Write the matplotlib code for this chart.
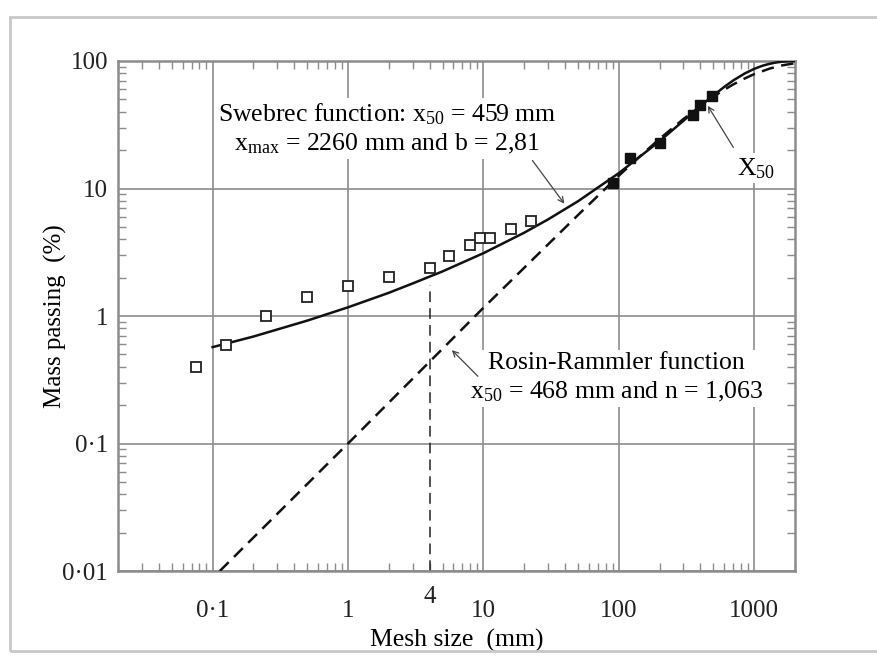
import matplotlib
matplotlib.use('Agg')
import matplotlib.pyplot as plt
from matplotlib.patches import Rectangle
from matplotlib.ticker import FixedLocator, LogLocator, NullFormatter

plt.rcParams['font.family'] = ['Liberation Serif', 'DejaVu Serif']
plt.rcParams['mathtext.fontset'] = 'custom'
plt.rcParams['mathtext.rm'] = 'Liberation Serif'
plt.rcParams['mathtext.it'] = 'Liberation Serif:italic'

# measured points: open = fines, filled = coarse
open_x = [0.075, 0.125, 0.25, 0.5, 1.0, 2.0, 4.0, 5.6, 8.0, 9.5, 11.2, 16, 22.4]
open_y = [0.40, 0.59, 1.0, 1.40, 1.72, 2.02, 2.40, 2.93, 3.62, 4.1, 4.1, 4.8, 5.57]
fill_x = [90, 120, 200, 350, 400, 490]
fill_y = [11.1, 17.4, 22.6, 37.8, 45.3, 53.6]

# Swebrec curve
sw_x = [0.1, 0.2, 0.5, 1, 2, 3, 5, 10, 20, 30, 50, 100, 200, 300, 459, 600,
        700, 850, 1000, 1150, 1300, 1450, 1600, 1800, 2000]
sw_y = [0.57, 0.69, 0.92, 1.17, 1.52, 1.80, 2.24, 3.11, 4.50, 5.72, 7.95, 13.2,
        23.5, 34.0, 50.0, 62.6, 70.4, 79.8, 86.8, 91.8, 95.1, 97.3, 98.7, 99.6, 99.9]

# Rosin-Rammler curve
rr_x = [0.113, 1, 10, 50, 100, 150, 200, 300, 500, 600, 700, 850, 1000, 1300, 1600, 2000]
rr_y = [0.01, 0.1, 1.16, 6.2, 12.6, 18.7, 24.5, 35.1, 52.5, 59.5, 65.5, 72.9,
        78.9, 87.2, 92.3, 96.1]

x_ticks = [0.1, 1, 10, 100, 1000]
x_labels = ['0\u00b71', '1', '10', '100', '1000']
y_ticks = [0.01, 0.1, 1, 10, 100]
y_labels = ['0\u00b701', '0\u00b71', '1', '10', '100']

gray = '#8c8c8c'

fig, ax = plt.subplots(figsize=(8.77, 6.58), dpi=100)
fig.subplots_adjust(left=0.1345, right=0.9065, bottom=0.1322, top=0.9073)

ax.set_xscale('log')
ax.set_yscale('log')
ax.set_xlim(0.02, 2000)
ax.set_ylim(0.01, 100)

ax.xaxis.set_major_locator(FixedLocator(x_ticks))
ax.xaxis.set_ticklabels(x_labels)
ax.yaxis.set_major_locator(FixedLocator(y_ticks))
ax.yaxis.set_ticklabels(y_labels)
ax.xaxis.set_minor_locator(LogLocator(base=10, subs=range(2, 10), numticks=20))
ax.yaxis.set_minor_locator(LogLocator(base=10, subs=range(2, 10), numticks=20))
ax.xaxis.set_minor_formatter(NullFormatter())
ax.yaxis.set_minor_formatter(NullFormatter())

ax.tick_params(which='major', length=0, labelsize=18, colors='#222222')
ax.tick_params(axis='x', which='major', pad=21)
ax.tick_params(axis='y', which='major', pad=7)
ax.tick_params(which='minor', direction='in', length=6, width=1, color=gray,
               top=True, right=True)

for s in ax.spines.values():
    s.set_color(gray)
    s.set_linewidth(1.8)

ax.grid(True, which='major', color=gray, linewidth=1.2)
ax.set_axisbelow(True)

ax.plot(sw_x, sw_y, color='#111111', linewidth=1.8, zorder=3)
ax.plot(rr_x, rr_y, color='#111111', linewidth=1.8, linestyle=(0, (5, 3)), zorder=3)
ax.plot([4, 4], [0.01, 1.75], color='#222222', linewidth=1.1,
        linestyle=(0, (7, 4)), zorder=2)

ax.plot(open_x, open_y, linestyle='none', marker='s', markersize=7,
        markerfacecolor='white', markeredgecolor='#222222', markeredgewidth=1.3, zorder=4)
ax.plot(fill_x, fill_y, linestyle='none', marker='s', markersize=7.5,
        color='#111111', zorder=4)

ax.set_xlabel('Mesh size  (mm)', fontsize=18.5, labelpad=5)
ax.set_ylabel('Mass passing  (%)', fontsize=18)
ax.yaxis.set_label_coords(-0.075, 0.5)

ax.text(4, -0.05, '4', transform=ax.get_xaxis_transform(), ha='center', va='center',
        fontsize=18, color='#222222')

box = dict(facecolor='white', edgecolor='none', pad=2)
ax.text(1.95, 29.4, 'Swebrec function: x$_{50}$ = 459 mm\n'
        'x$_{\\mathrm{max}}$ = 2260 mm and b = 2,81',
        ha='center', va='center', multialignment='center', fontsize=18.5,
        linespacing=1.3, bbox=box, zorder=5)
ax.text(96, 0.325, 'Rosin-Rammler function\nx$_{50}$ = 468 mm and n = 1,063',
        ha='center', va='center', multialignment='center', fontsize=18.5,
        linespacing=1.3, bbox=box, zorder=5)
ax.text(740, 14.4, 'X$_{50}$', ha='left', va='center', fontsize=18.5,
        bbox=box, zorder=5)

arrow = dict(arrowstyle='->', color='#444444', lw=0.9, shrinkA=0, shrinkB=0)
ax.annotate('', xy=(39.6, 7.6), xytext=(23.0, 16.6), arrowprops=arrow, zorder=6)
ax.annotate('', xy=(5.85, 0.54), xytext=(9.1, 0.337), arrowprops=arrow, zorder=6)
ax.annotate('', xy=(454, 44.5), xytext=(701, 21.0), arrowprops=arrow, zorder=6)

# screenshot frame around the figure
fig.patches.append(Rectangle((10 / 877, 7 / 658), 1.0, 634 / 658,
                             transform=fig.transFigure, fill=False,
                             edgecolor='#c8c8c8', linewidth=2))

fig.savefig('out.png', dpi=100)
